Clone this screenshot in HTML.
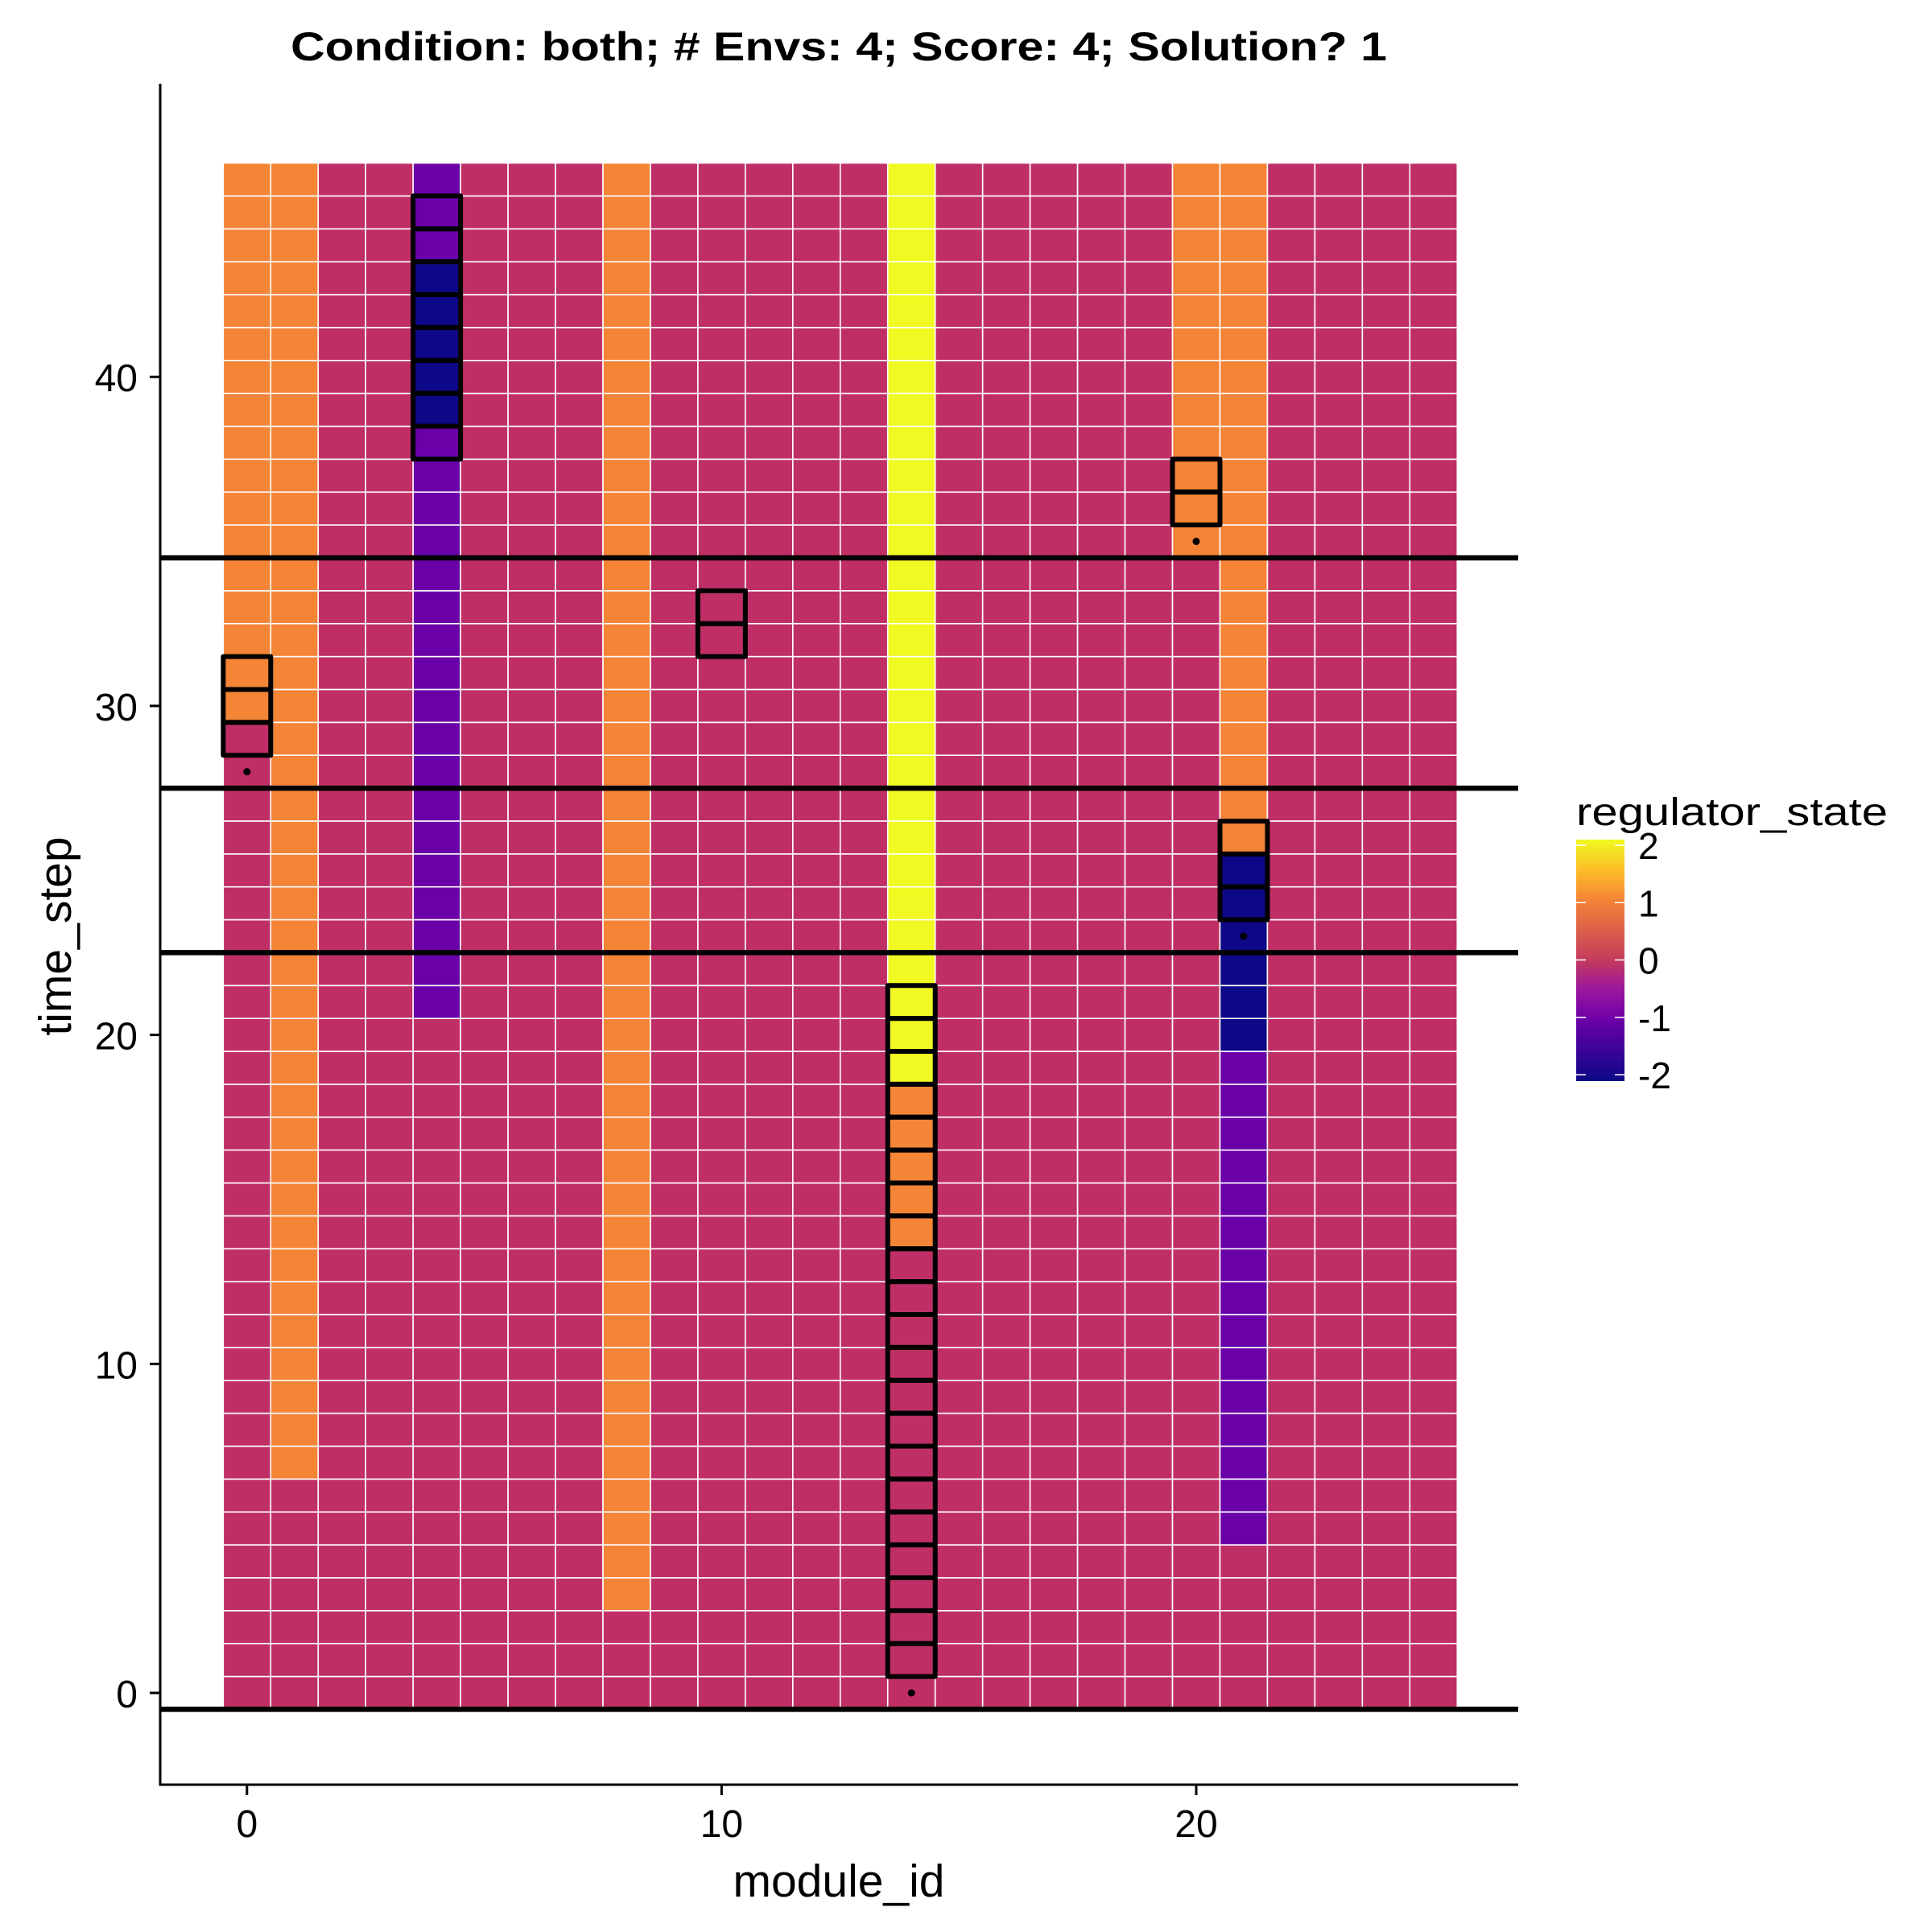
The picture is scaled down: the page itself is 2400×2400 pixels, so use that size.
<!DOCTYPE html>
<html><head><meta charset="utf-8"><style>
html,body{margin:0;padding:0;background:#fff}
svg{display:block;font-family:"Liberation Sans",Arial,sans-serif}
</style></head><body>
<svg id="chart" width="2400" height="2400" viewBox="0 0 2400 2400" xmlns="http://www.w3.org/2000/svg">
<rect width="2400" height="2400" fill="#fff"/>
<text x="1042" y="75" text-anchor="middle" font-weight="bold" font-size="50" textLength="1362" lengthAdjust="spacingAndGlyphs">Condition: both; # Envs: 4; Score: 4; Solution? 1</text>
<g id="cells"></g>
<g id="hlines"></g>
<g id="boxes"></g>
<g id="dots"></g>
<g id="axes"></g>
<g id="legend"></g>
</svg>
<script>
// ---- data ----
const moduleIds = [0,1,2,3,4,5,6,7,8,9,10,11,12,13,14,15,16,17,18,19,20,21,22,23,24,25];
const timeMax = 46;
// runs of non-zero regulator_state: module, from step, to step, value
const runModules = [0, 1, 4, 4, 4, 8, 14, 14, 20, 21, 21, 21];
const runFrom    = [30, 7, 21, 39, 44, 3, 19, 14, 35, 26, 20, 5];
const runTo      = [46, 46, 38, 43, 46, 46, 46, 18, 46, 46, 25, 19];
const runValues  = [1, 1, -1, -2, -1, 1, 2, 1, 1, 1, -2, -1];
// highlight boxes
const boxModules = [0, 4, 10, 14, 20, 21];
const boxFrom    = [29, 38, 32, 1, 36, 24];
const boxTo      = [31, 45, 33, 21, 37, 26];
// dots
const dotModules = [0, 20, 21, 14];
const dotSteps   = [28, 35, 23, 0];
// horizontal environment boundary lines
const hlineSteps = [-0.5, 22.5, 27.5, 34.5];
// ticks
const xTicks = [0, 10, 20];
const yTicks = [0, 10, 20, 30, 40];
const legendTicks = [2, 1, 0, -1, -2];

// ---- scales ----
const X0 = 306.8, XU = 58.96, Y0 = 2103, YU = 40.87;
const xs = v => X0 + v * XU;
const ys = v => Y0 - v * YU;
const panelL = 199, panelR = 1886, panelT = 104, panelB = 2217;
const colorMap = {"2":"#F0F921","1":"#F48436","0":"#BF2F66","-1":"#6A00A8","-2":"#0D0887"};
const NS = "http://www.w3.org/2000/svg";
function mk(tag, attrs, parent){const e=document.createElementNS(NS,tag);for(const k in attrs)e.setAttribute(k,attrs[k]);parent.appendChild(e);return e;}

const grid = {};
moduleIds.forEach(m=>{grid[m]=[];for(let t=0;t<=timeMax;t++)grid[m][t]=0;});
runModules.forEach((m,i)=>{for(let t=runFrom[i];t<=runTo[i];t++)grid[m][t]=runValues[i];});

const cells = document.getElementById('cells');
moduleIds.forEach(m=>{
  for(let t=0;t<=timeMax;t++){
    const r = mk('rect',{x:xs(m-0.5),y:ys(t+0.5),width:XU,height:YU,fill:colorMap[String(grid[m][t])],stroke:"#fff","stroke-width":1.6},cells);
    
    
  }
});

const hl = document.getElementById('hlines');
hlineSteps.forEach(s=>{
  const l = mk('line',{x1:panelL,x2:panelR,y1:ys(s),y2:ys(s),stroke:"#000","stroke-width":6.5},hl);
  
  
});

const bx = document.getElementById('boxes');
boxModules.forEach((m,i)=>{
  for(let t=boxFrom[i];t<=boxTo[i];t++){
    const r = mk('rect',{x:xs(m-0.5),y:ys(t+0.5),width:XU,height:YU,fill:"none",stroke:"#000","stroke-width":6,"stroke-linejoin":"round"},bx);
    
    
  }
});

const dt = document.getElementById('dots');
dotModules.forEach((m,i)=>{
  const c = mk('circle',{cx:xs(m),cy:ys(dotSteps[i]),r:4.5,fill:"#000"},dt);
  
  
});

const ax = document.getElementById('axes');
let a = mk('line',{x1:panelL,x2:panelL,y1:panelT,y2:panelB+1.5,stroke:"#000","stroke-width":3},ax);


a = mk('line',{x1:panelL-1.5,x2:panelR,y1:panelB,y2:panelB,stroke:"#000","stroke-width":3},ax);


xTicks.forEach(v=>{
  const t = mk('line',{x1:xs(v),x2:xs(v),y1:panelB,y2:panelB+13,stroke:"#000","stroke-width":3},ax);
  
  
  const l = mk('text',{x:xs(v),y:2282,"text-anchor":"middle","font-size":48,fill:"#000"},ax);
  l.textContent = v;
  
  
});
yTicks.forEach(v=>{
  const t = mk('line',{x1:panelL-13,x2:panelL,y1:ys(v),y2:ys(v),stroke:"#000","stroke-width":3},ax);
  
  
  const l = mk('text',{x:171,y:ys(v)+18,"text-anchor":"end","font-size":48,fill:"#000"},ax);
  l.textContent = v;
  
  
});
let tt = mk('text',{x:1042,y:2356,"text-anchor":"middle","font-size":57,fill:"#000"},ax);
tt.textContent='module_id';


tt = mk('text',{x:0,y:0,"text-anchor":"middle","font-size":57,fill:"#000",transform:"translate(88,1163) rotate(-90)"},ax);
tt.textContent='time_step';



// legend
const lg = document.getElementById('legend');
const defs = mk('defs',{},lg);
const grad = mk('linearGradient',{id:'plasma',x1:0,y1:0,x2:0,y2:1},defs);
[["0","#F0F921"],["0.12","#FCC027"],["0.25","#F48436"],["0.5","#C43B5E"],["0.62","#9C179E"],["0.75","#6A00A8"],["1","#0D0887"]].forEach(s=>mk('stop',{offset:s[0],"stop-color":s[1]},grad));
const lgTop=1043, lgBot=1343, lgL=1958, lgW=60, tkTop=1050, tkBot=1335;
let lt = mk('text',{x:1958,y:1025,"font-size":48,fill:"#000",textLength:387,lengthAdjust:"spacingAndGlyphs"},lg);
lt.textContent='regulator_state';


let bar = mk('rect',{x:lgL,y:lgTop,width:lgW,height:lgBot-lgTop,fill:"url(#plasma)"},lg);


const lgScale = v => tkBot - (v - (-2)) / 4 * (tkBot - tkTop);
legendTicks.forEach(v=>{
  const y = lgScale(v);
  mk('line',{x1:lgL,x2:lgL+12,y1:y,y2:y,stroke:"#fff","stroke-width":1.5},lg);
  mk('line',{x1:lgL+lgW-12,x2:lgL+lgW,y1:y,y2:y,stroke:"#fff","stroke-width":1.5},lg);
  const l = mk('text',{x:2035,y:y+17,"font-size":46,fill:"#000"},lg);
  l.textContent = v;
  
  
});
</script>
</body></html>
